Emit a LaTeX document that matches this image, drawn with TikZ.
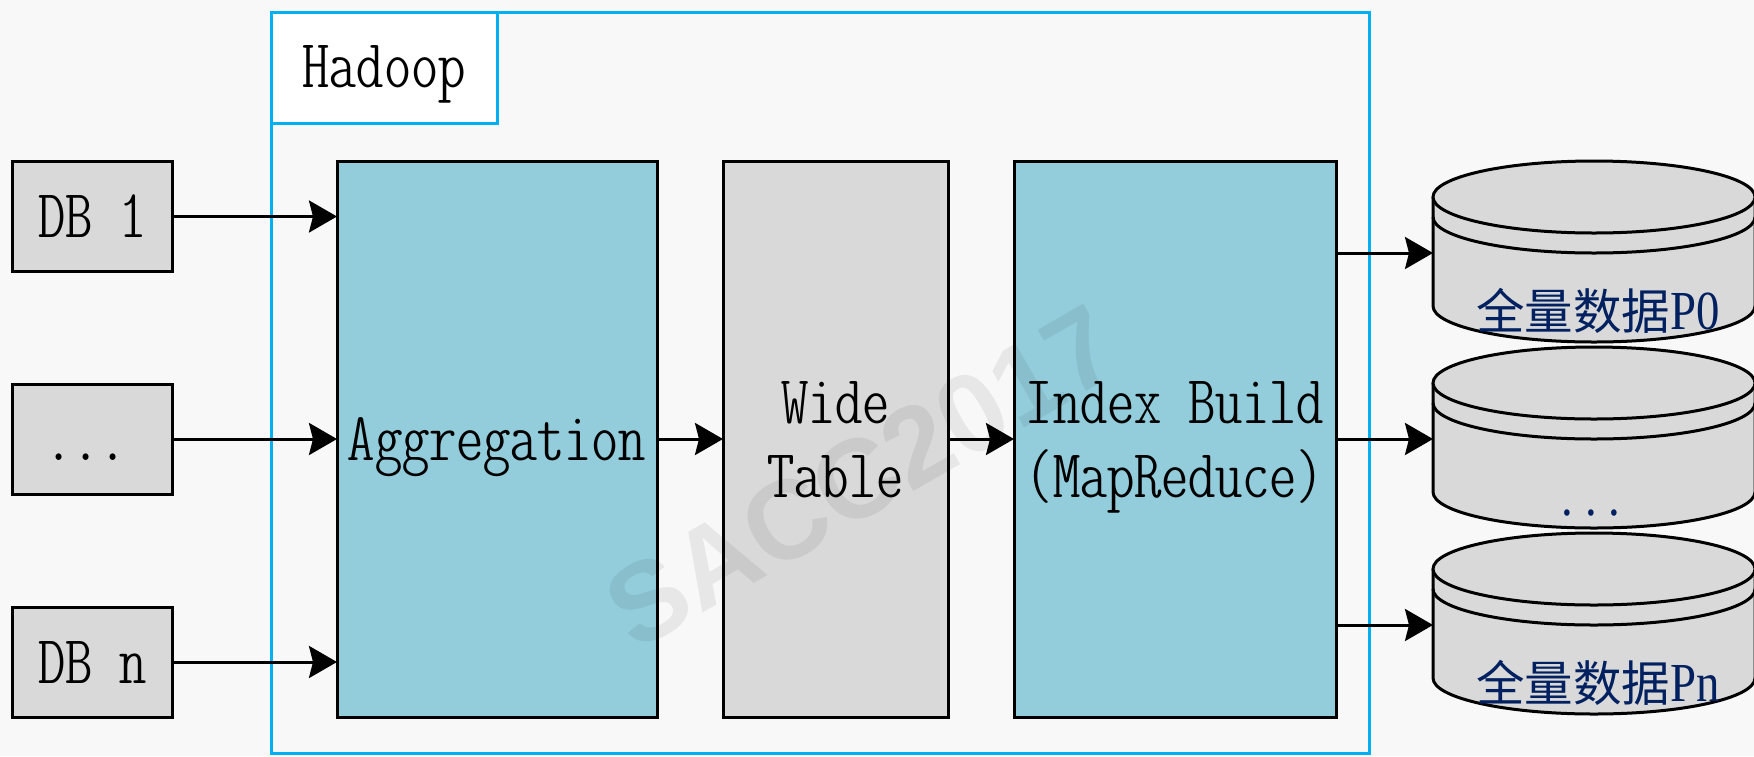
\documentclass[tikz,border=0pt]{standalone}
\usepackage{fontspec}
\usepackage{graphicx}
\usetikzlibrary{arrows.meta}
\newfontfamily\cjkfont{Noto Sans CJK SC}
\newfontfamily\seriff{Liberation Serif}
\newfontfamily\wmfont{Liberation Sans}
\newfontfamily\lmlc{lmmonoltcond10-regular}[Extension=.otf]
\definecolor{bgc}{HTML}{F8F8F8}
\definecolor{aqua}{HTML}{93CDDC}
\definecolor{lgray}{HTML}{D9D9D9}
\definecolor{hblue}{HTML}{00B0F0}
\definecolor{navy}{HTML}{002060}
% #1 = number of characters, #2 = text; pitch 27.1pt per character
\newcommand{\cnd}[2]{\resizebox{\dimexpr #1\dimexpr 27.1pt\relax\relax}{\height}{#2}}
\newcommand{\cnl}[1]{{\cjkfont\fontsize{48.5}{50}\selectfont #1}}
\newcommand{\snl}[1]{\scalebox{0.85}[1]{\seriff\fontsize{55}{56}\selectfont #1}}
\begin{document}
\begin{tikzpicture}[x=1pt,y=-1pt,
  boxline/.style={draw=black, line width=3pt, inner sep=0pt, outer sep=0pt},
  dbbox/.style={boxline, fill=lgray, minimum width=160pt, minimum height=110pt},
  stagebox/.style={boxline, minimum height=556pt},
  lbl/.style={inner sep=0pt, anchor=base, font=\lmlc\fontsize{68.7}{74}\selectfont},
  cyllbl/.style={inner sep=0pt, anchor=base, text=navy},
  conn/.style={line width=3pt, -{Stealth[length=28pt, width=32pt, inset=4pt]}},
  cylbody/.style={fill=lgray, draw=black, line width=3pt},
  hline/.style={draw=hblue, line width=3pt}]
\fill[bgc] (0,0) rectangle (1754,756);
\useasboundingbox (0,0) rectangle (1754,756);

% Hadoop frame
\node[hline, inner sep=0pt, minimum width=1098pt, minimum height=741pt] (hadoop) at (820,382.5) {};
\node[hline, fill=white, inner sep=0pt, minimum width=226pt, minimum height=111pt] (hlabel) at (384,67.5) {};
\node[lbl] (hlabeltxt) at (384,87) {\cnd{6}{Hadoop}};

% sources
\node[dbbox] (db1) at (92.5,216.5) {};
\node[dbbox] (dbm) at (92.5,439) {};
\node[dbbox] (dbn) at (92.5,662) {};

% stages
\node[stagebox, fill=aqua, minimum width=320pt] (agg) at (497,439) {};
\node[stagebox, fill=lgray, minimum width=225pt] (wide) at (835.5,439) {};
\node[stagebox, fill=aqua, minimum width=322pt] (idx) at (1175,439) {};

% cylinders
\foreach \T/\k in {161/1,347/2,533/3}{
  \path[cylbody] (1433,\T+36) -- (1433,\T+145)
     arc[start angle=180, end angle=0, x radius=161, y radius=36] -- (1755,\T+36);
  \draw[cylbody] (1594,\T+36) ellipse[x radius=161, y radius=36];
  \draw[black, line width=3pt] (1433,\T+56) arc[start angle=180, end angle=0, x radius=161, y radius=36];
  \coordinate (cyl\k) at (1433,\T+92);
}

% connectors
\draw[conn] (db1.east) -- (db1.east -| agg.west);
\draw[conn] (dbm.east) -- (dbm.east -| agg.west);
\draw[conn] (dbn.east) -- (dbn.east -| agg.west);
\draw[conn] (agg.east) -- (wide.west);
\draw[conn] (wide.east) -- (idx.west);
\draw[conn] (idx.east |- cyl1) -- (cyl1);
\draw[conn] (idx.east |- cyl2) -- (cyl2);
\draw[conn] (idx.east |- cyl3) -- (cyl3);

% watermark
\node[opacity=0.065, rotate=30, inner sep=0pt, font=\wmfont\bfseries\fontsize{112}{112}\selectfont] (wm) at (862,477) {SACC2017};

% texts
\node[lbl] (db1txt) at (92.5,237) {\cnd{4}{DB 1}};
\node[lbl] (dbmtxt) at (86,460) {\cnd{3}{...}};
\node[lbl] (dbntxt) at (92.5,683) {\cnd{4}{DB n}};
\node[lbl] (aggtxt) at (497,460) {\cnd{11}{Aggregation}};
\node[lbl] (widetxtA) at (835.5,423) {\cnd{4}{Wide}};
\node[lbl] (widetxtB) at (835.5,497) {\cnd{5}{Table}};
\node[lbl] (idxtxtA) at (1175,423) {\cnd{11}{Index Build}};
\node[lbl] (idxtxtB) at (1175,497) {\cnd{11}{(MapReduce)}};
\node[cyllbl] (c1txt) at (1598,329) {\cnl{全量数据}\snl{P0}};
\node[cyllbl] (c2txt) at (1591,515) {\snl{.\hspace{14pt}.\hspace{14pt}.}};
\node[cyllbl] (c3txt) at (1598,701) {\cnl{全量数据}\snl{Pn}};
\end{tikzpicture}
\end{document}
